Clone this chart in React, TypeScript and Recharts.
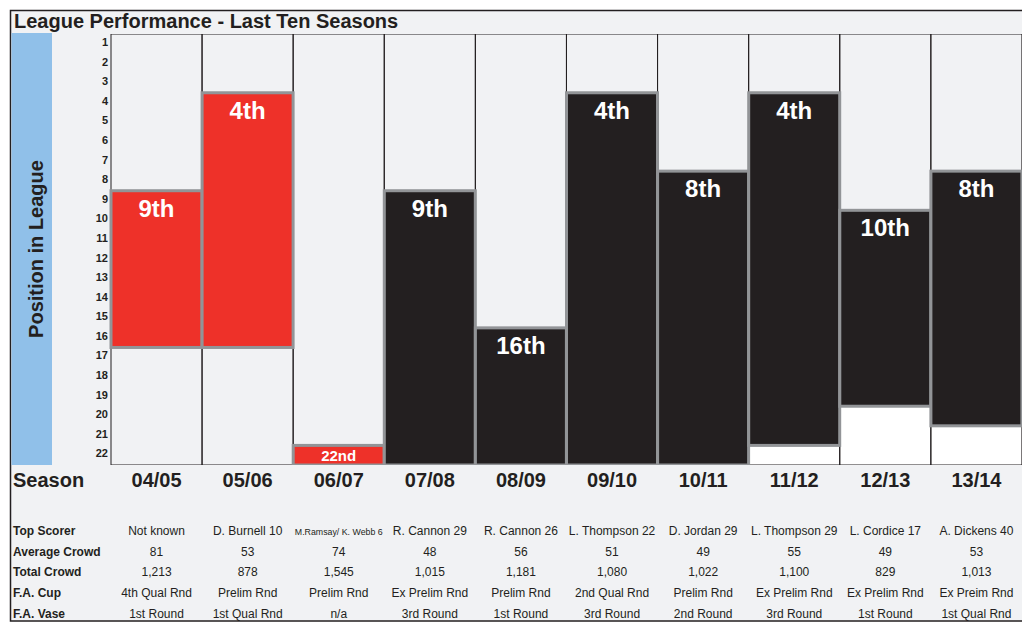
import React from 'react';
import { BarChart, Bar, XAxis, YAxis } from 'recharts';

const seasons = ['04/05', '05/06', '06/07', '07/08', '08/09', '09/10', '10/11', '11/12', '12/13', '13/14'];
const positions = [9, 4, 22, 9, 16, 4, 8, 4, 10, 8];
const placeLabels = ['9th', '4th', '22nd', '9th', '16th', '4th', '8th', '4th', '10th', '8th'];
const barEnd = [17, 17, 23, 23, 23, 23, 23, 22, 20, 21];
const whiteFrom: (number | null)[] = [null, null, null, null, null, null, null, 22, 20, 21];

const topScorer = ['Not known', 'D. Burnell 10', 'M.Ramsay/ K. Webb 6', 'R. Cannon 29', 'R. Cannon 26', 'L. Thompson 22', 'D. Jordan 29', 'L. Thompson 29', 'L. Cordice 17', 'A. Dickens 40'];
const avgCrowd = ['81', '53', '74', '48', '56', '51', '49', '55', '49', '53'];
const totalCrowd = ['1,213', '878', '1,545', '1,015', '1,181', '1,080', '1,022', '1,100', '829', '1,013'];
const faCup = ['4th Qual Rnd', 'Prelim Rnd', 'Prelim Rnd', 'Ex Prelim Rnd', 'Prelim Rnd', '2nd Qual Rnd', 'Prelim Rnd', 'Ex Prelim Rnd', 'Ex Prelim Rnd', 'Ex Preim Rnd'];
const faVase = ['1st Round', '1st Qual Rnd', 'n/a', '3rd Round', '1st Round', '3rd Round', '2nd Round', '3rd Round', '1st Round', '1st Qual Rnd'];

const rowLabels = ['Top Scorer', 'Average Crowd', 'Total Crowd', 'F.A. Cup', 'F.A. Vase'];
const rowValues = [topScorer, avgCrowd, totalCrowd, faCup, faVase];

const yTicks = [1, 2, 3, 4, 5, 6, 7, 8, 9, 10, 11, 12, 13, 14, 15, 16, 17, 18, 19, 20, 21, 22];
const yDomain = [1, 23];
const redSeasons = ['04/05', '05/06', '06/07'];

const FONT = '"Liberation Sans", Arial, Helvetica, sans-serif';
const DARK = '#231f20';
const RED = '#ee3129';
const BLACK = '#231f20';
const GRAY = '#929497';
const BG = '#f1f2f4';
const BLUE = '#90c0e9';

const data = seasons.map((s, i) => ({
  season: s,
  place: [barEnd[i], positions[i]],
  white: whiteFrom[i] == null ? null : [yDomain[1], whiteFrom[i]],
  frame: [yDomain[1], yDomain[0]],
  label: placeLabels[i],
}));

const WhiteShape = (props: any) => {
  const { x, y, width, height, payload } = props;
  if (!payload || payload.white == null || !(height > 0)) return null;
  return <rect x={x} y={y} width={width} height={height} fill="#ffffff" />;
};

const FrameShape = (props: any) => {
  const { x, y, width, height } = props;
  if (!(height > 0)) return null;
  return <rect x={x} y={y} width={width} height={height} fill="none" stroke={DARK} strokeWidth={1} />;
};

const MainShape = (props: any) => {
  const { x, y, width, height, payload } = props;
  if (!payload || !(height > 0)) return null;
  const red = redSeasons.includes(payload.season);
  const small = height < 30;
  return (
    <g>
      <rect x={x} y={y} width={width} height={height} fill={red ? RED : BLACK} stroke={GRAY} strokeWidth={3} />
      <text
        x={x + width / 2}
        y={small ? y + height / 2 + 5.5 : y + 26}
        textAnchor="middle"
        fill="#ffffff"
        fontWeight="bold"
        fontFamily={FONT}
        fontSize={small ? 15 : 24}
      >
        {payload.label}
      </text>
    </g>
  );
};

const YTick = (props: any) => {
  const { x, y, payload } = props;
  return (
    <text x={x} y={y + 12} textAnchor="end" fontSize={11} fontWeight="bold" fontFamily={FONT} fill={DARK}>
      {payload.value}
    </text>
  );
};

const TableTick = (props: any) => {
  const { x, y, payload } = props;
  const i = payload && payload.index != null ? payload.index : props.index;
  return (
    <g>
      <text x={x} y={y + 22} textAnchor="middle" fontSize={20} fontWeight="bold" fontFamily={FONT} fill={DARK}>
        {payload.value}
      </text>
      {rowValues.map((arr, r) => {
        const txt = arr[i];
        const fs = txt && txt.length > 16 ? 8.8 : 12;
        return (
          <text key={r} x={x} y={y + 70 + r * 20.7} textAnchor="middle" fontSize={fs} fontFamily={FONT} fill={DARK}>
            {txt}
          </text>
        );
      })}
    </g>
  );
};

export default function App() {
  return (
    <div style={{ position: 'absolute', left: 0, top: 0, width: 1022, height: 629, overflow: 'hidden', background: '#ffffff' }}>
      <svg width={1022} height={629} style={{ position: 'absolute', left: 0, top: 0 }}>
        <rect x={10.5} y={10.5} width={1030} height={610.5} fill={BG} stroke={DARK} strokeWidth={1.5} />
        <rect x={11.5} y={33} width={40.5} height={432} fill={BLUE} />
        <text x={14} y={28} fontSize={20} fontWeight="bold" fontFamily={FONT} fill={DARK}>
          League Performance - Last Ten Seasons
        </text>
        <text
          x={43}
          y={249}
          transform="rotate(-90 43 249)"
          textAnchor="middle"
          fontSize={20}
          fontWeight="bold"
          fontFamily={FONT}
          fill={DARK}
        >
          Position in League
        </text>
        <text x={13} y={487} fontSize={20} fontWeight="bold" fontFamily={FONT} fill={DARK}>
          Season
        </text>
        {rowLabels.map((l, r) => (
          <text key={l} x={13} y={535 + r * 20.7} fontSize={12} fontWeight="bold" fontFamily={FONT} fill={DARK}>
            {l}
          </text>
        ))}
      </svg>
      <div style={{ position: 'absolute', left: 0, top: 0 }}>
        <BarChart
          width={1030}
          height={629}
          data={data}
          margin={{ top: 34, right: 8, bottom: 14, left: 81 }}
          barCategoryGap={0}
          barGap={0}
        >
          <XAxis
            dataKey="season"
            type="category"
            axisLine={false}
            tickLine={false}
            tickSize={0}
            tickMargin={0}
            height={150}
            interval={0}
            tick={<TableTick />}
          />
          <XAxis xAxisId="w" dataKey="season" hide />
          <XAxis xAxisId="f" dataKey="season" hide />
          <YAxis
            type="number"
            domain={yDomain}
            reversed
            ticks={yTicks}
            interval={0}
            width={30}
            axisLine={false}
            tickLine={false}
            tickSize={0}
            tickMargin={3}
            tick={<YTick />}
            allowDataOverflow
          />
          <Bar xAxisId="w" dataKey="white" isAnimationActive={false} shape={<WhiteShape />} />
          <Bar xAxisId="f" dataKey="frame" isAnimationActive={false} shape={<FrameShape />} />
          <Bar dataKey="place" isAnimationActive={false} shape={<MainShape />} />
        </BarChart>
      </div>
    </div>
  );
}
